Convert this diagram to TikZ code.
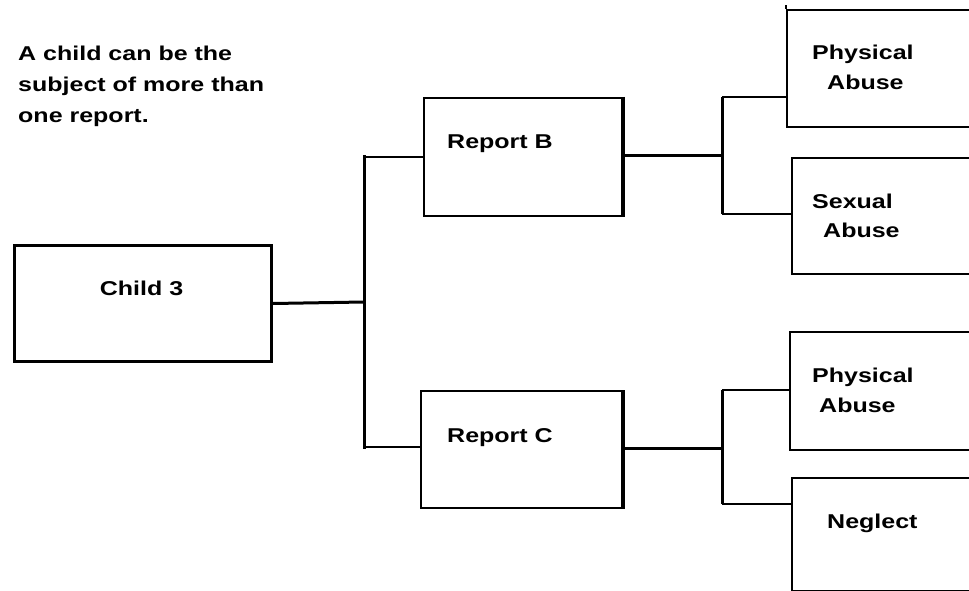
\documentclass[tikz,border=0pt]{standalone}
\usepackage{fontspec}
\setmainfont{Liberation Sans}[FakeStretch=1.25]
\begin{document}
\begin{tikzpicture}[x=1pt,y=-1pt,
  box/.style={draw, line width=1.8pt, inner sep=0pt, anchor=north west},
  lbl/.style={inner sep=0pt, anchor=base west, font=\fontsize{20}{31}\selectfont\bfseries},
  thickline/.style={line width=3pt},
  thinline/.style={line width=2pt}]
\useasboundingbox (0,0) rectangle (969,591);
\clip (0,0) rectangle (969,591);
% note text
\node[lbl] (n1) at (18,61) {A child can be the};
\node[lbl] (n2) at (18,92) {subject of more than};
\node[lbl] (n3) at (18,123) {one report.};
% boxes
\node[box, line width=3pt, minimum width=257pt, minimum height=116pt] (child) at (13,244) {};
\node[box, minimum width=198pt, minimum height=118pt] (repB) at (423,97) {};
\node[box, minimum width=201pt, minimum height=117pt] (repC) at (420,390) {};
\node[box, minimum width=220pt, minimum height=117pt] (pa1) at (786,9) {};
\node[box, minimum width=220pt, minimum height=116pt] (sa) at (791,157) {};
\node[box, minimum width=220pt, minimum height=118pt] (pa2) at (789,331) {};
\node[box, minimum width=220pt, minimum height=113pt] (neg) at (791,477) {};
\draw[line width=3.5pt] (repB.north east) -- (repB.south east);
\draw[line width=3.5pt] (repC.north east) -- (repC.south east);
\draw[line width=1.8pt] (pa1.north west) -- ++(0,-4);
% labels
\node[lbl, anchor=base] (tchild) at (141.5,295) {Child 3};
\node[lbl] (trepB) at (447,149) {Report B};
\node[lbl] (trepC) at (447,442) {Report C};
\node[lbl] (tpa1a) at (812,60) {Physical};
\node[lbl] (tpa1b) at (827,90) {Abuse};
\node[lbl] (tsaa) at (812,208) {Sexual};
\node[lbl] (tsab) at (823,237) {Abuse};
\node[lbl] (tpa2a) at (812,382) {Physical};
\node[lbl] (tpa2b) at (819,412) {Abuse};
\node[lbl] (tneg) at (827,528) {Neglect};
% connectors
\coordinate (j1) at (364,302);
\coordinate (j1t) at (364,157);
\coordinate (j1b) at (364,447);
\draw[thickline] (child.east) -- (j1);
\draw[thickline, line cap=rect] (j1t) -- (j1b);
\draw[thinline] (j1t) -- (j1t -| repB.west);
\draw[thinline] (j1b) -- (j1b -| repC.west);
\coordinate (j2) at (722,156);
\coordinate (j2t) at (722,97);
\coordinate (j2b) at (722,214);
\draw[thickline] (j2 -| repB.east) -- (j2);
\draw[thickline] (j2t) -- (j2b);
\draw[thinline] (j2t) -- (j2t -| pa1.west);
\draw[thinline] (j2b) -- (j2b -| sa.west);
\coordinate (j3) at (722,448);
\coordinate (j3t) at (722,390);
\coordinate (j3b) at (722,504);
\draw[thickline] (j3 -| repC.east) -- (j3);
\draw[thickline] (j3t) -- (j3b);
\draw[thinline] (j3t) -- (j3t -| pa2.west);
\draw[thinline] (j3b) -- (j3b -| neg.west);
\end{tikzpicture}
\end{document}
